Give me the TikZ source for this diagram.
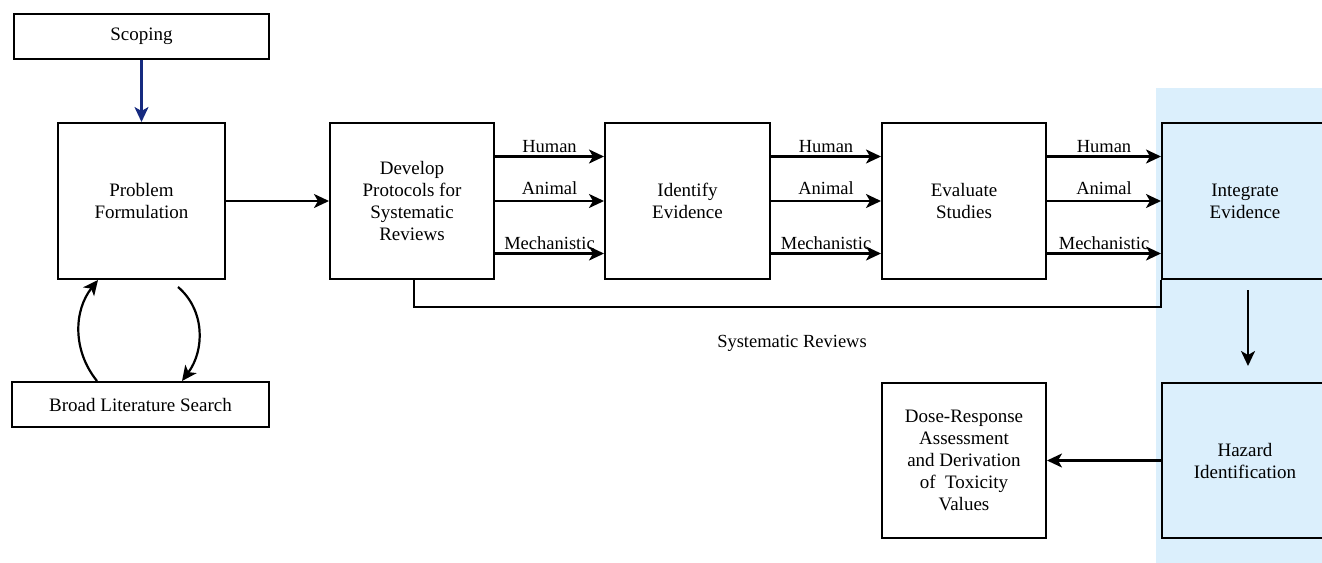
\documentclass[tikz,border=0pt]{standalone}
\usepackage{fontspec}
\setmainfont{Liberation Serif}
\usetikzlibrary{arrows.meta}
\definecolor{bandblue}{RGB}{219,239,252}
\definecolor{navy}{RGB}{22,42,128}
\tikzset{
  box/.style={draw=black, line width=2pt, align=center, inner sep=2pt,
    font=\fontsize{19}{22}\selectfont},
  conn/.style={line width=2.2pt, -{Stealth[length=15pt,width=14pt,inset=4pt]}},
  lab/.style={font=\fontsize{18.5}{20}\selectfont, anchor=base, inner sep=0pt},
}
\begin{document}
\begin{tikzpicture}[x=1pt,y=-1pt]
\clip (0,0) rectangle (1322,562);
\fill[bandblue] (1156,88) rectangle (1330,570);
% boxes
\node[box, minimum width=255pt, minimum height=45pt] (scope) at (141.5,36.5) {Scoping};
\node[box, minimum width=167pt, minimum height=156pt] (prob) at (141.5,201) {Problem\\Formulation};
\node[box, minimum width=257pt, minimum height=45pt] (broad) at (140.5,404.5) {Broad Literature Search};
\node[box, minimum width=164pt, minimum height=156pt] (dev) at (412,201) {Develop\\Protocols for\\Systematic\\Reviews};
\node[box, minimum width=165pt, minimum height=156pt] (ident) at (687.5,201) {Identify\\Evidence};
\node[box, minimum width=164pt, minimum height=156pt] (eval) at (964,201) {Evaluate\\Studies};
\node[box, fill=bandblue, minimum width=166pt, minimum height=156pt] (integ) at (1245,201) {Integrate\\Evidence};
\node[box, fill=bandblue, minimum width=166pt, minimum height=155pt] (haz) at (1245,460.5) {Hazard\\Identification};
\node[box, minimum width=164pt, minimum height=155pt] (dose) at (964,460.5) {Dose-Response\\Assessment\\and Derivation\\of~ Toxicity\\Values};
% connectors
\draw[conn, navy] (scope.south) -- (prob.north);
\draw[conn] (prob.east) -- (dev.west);
\foreach \a/\b/\c in {dev/ident/549.5, ident/eval/826, eval/integ/1104}{
  \draw[conn] (\a.east |- 0,156.5) -- (\b.west |- 0,156.5);
  \draw[conn] (\a.east |- 0,201) -- (\b.west |- 0,201);
  \draw[conn] (\a.east |- 0,253.5) -- (\b.west |- 0,253.5);
  \node[lab] (h\a) at (\c,152) {Human};
  \node[lab] (an\a) at (\c,194) {Animal};
  \node[lab] (m\a) at (\c,249.5) {Mechanistic};
}
% systematic reviews bracket
\coordinate (sr1) at (414,307);
\draw[line width=2pt] (dev.south -| sr1) -- (sr1) -- (sr1 -| integ.west) -- (integ.south west);
\node[lab] (srlab) at (792,347) {Systematic Reviews};
% down arrow
\coordinate (da) at (1248,290);
\draw[conn] (da) -- (1248,366) coordinate (db);
\draw[conn] (haz.west) -- (dose.east);
% loop between problem formulation and literature search
\draw[conn] (broad.north -| 97,0) .. controls (72,350) and (74,310) .. (prob.south -| 98,0);
\draw[conn] (prob.south -| 178,0) ++(0,7) .. controls (205,310) and (205,350) .. (broad.north -| 182,0);
\end{tikzpicture}
\end{document}
